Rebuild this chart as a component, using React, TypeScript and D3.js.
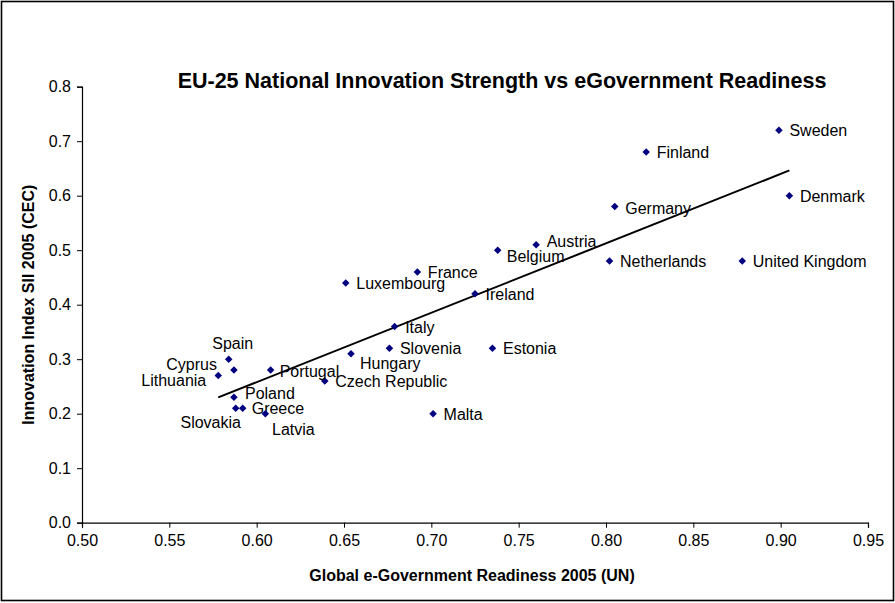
import React, { useEffect, useRef } from "react";
import * as d3 from "d3";

const countries = [
  "Sweden", "Finland", "Denmark", "Germany", "Austria", "Belgium", "Netherlands",
  "United Kingdom", "France", "Luxembourg", "Ireland", "Italy", "Slovenia", "Estonia",
  "Hungary", "Czech Republic", "Malta", "Portugal", "Spain", "Cyprus", "Lithuania",
  "Poland", "Slovakia", "Greece", "Latvia",
];
const egovReadiness = [
  0.899, 0.823, 0.905, 0.805, 0.760, 0.738, 0.802,
  0.878, 0.692, 0.651, 0.725, 0.679, 0.676, 0.735,
  0.654, 0.639, 0.701, 0.608, 0.584, 0.587, 0.578,
  0.587, 0.588, 0.592, 0.605,
];
const innovationIndex = [
  0.72, 0.68, 0.60, 0.58, 0.51, 0.50, 0.48,
  0.48, 0.46, 0.44, 0.42, 0.36, 0.32, 0.32,
  0.31, 0.26, 0.20, 0.28, 0.30, 0.28, 0.27,
  0.23, 0.21, 0.21, 0.20,
];
const xTicks = [0.5, 0.55, 0.6, 0.65, 0.7, 0.75, 0.8, 0.85, 0.9, 0.95];
const yTicks = [0, 0.1, 0.2, 0.3, 0.4, 0.5, 0.6, 0.7, 0.8];

const titleText = "EU-25 National Innovation Strength vs eGovernment Readiness";
const xTitle = "Global e-Government Readiness 2005 (UN)";
const yTitle = "Innovation Index SII 2005 (CEC)";

// label placement (layout only): [dx, dy, anchor]
const labelPlacement: Record<string, [number, number, string]> = {
  Spain: [4, -16, "middle"],
  Cyprus: [-17, -6, "end"],
  Lithuania: [-12, 5, "end"],
  Slovakia: [-25, 14, "middle"],
  Latvia: [28, 16, "middle"],
  Hungary: [9, 10, "start"],
  Belgium: [9, 6.5, "start"],
  Austria: [10.5, -3, "start"],
  Poland: [11, -4, "start"],
  Greece: [9, 0, "start"],
  Portugal: [9, 1, "start"],
  Germany: [10.5, 2, "start"],
};

const FONT = "'Liberation Sans', Arial, sans-serif";

export default function App() {
  const ref = useRef<SVGSVGElement>(null);
  useEffect(() => {
    const svg = d3.select(ref.current);
    svg.selectAll("*").remove();
    const W = 895, H = 603;
    const x = d3.scaleLinear().domain([0.5, 0.95]).range([82, 868]);
    const y = d3.scaleLinear().domain([0, 0.8]).range([522.7, 86.7]);

    svg.append("rect").attr("x", 0).attr("y", 0).attr("width", W).attr("height", H).attr("fill", "white");
    svg.append("rect").attr("x", 1.5).attr("y", 1.5).attr("width", 892).attr("height", 599)
      .attr("fill", "none").attr("stroke", "black").attr("stroke-width", 1.6);

    svg.append("text").attr("x", 502).attr("y", 88).attr("text-anchor", "middle")
      .attr("font-family", FONT).attr("font-weight", "bold").attr("font-size", 21.5).text(titleText);

    const xAxis = d3.axisBottom(x).tickValues(xTicks).tickFormat(d3.format(".2f")).tickSizeOuter(0).tickSize(5).tickPadding(7);
    const gx = svg.append("g").attr("transform", `translate(0,${y(0)})`).call(xAxis);
    const yAxis = d3.axisLeft(y).tickValues(yTicks).tickFormat(d3.format(".1f")).tickSizeOuter(0).tickSize(5).tickPadding(6);
    const gy = svg.append("g").attr("transform", `translate(${x(0.5)},0)`).call(yAxis);
    [gx, gy].forEach((g) => {
      g.select(".domain").attr("stroke", "black").attr("stroke-width", 1.2);
      g.selectAll(".tick line").attr("stroke", "black");
      g.selectAll(".tick text").attr("font-family", FONT).attr("font-size", 16).attr("fill", "black");
    });

    svg.append("text").attr("x", 472).attr("y", 581).attr("text-anchor", "middle")
      .attr("font-family", FONT).attr("font-weight", "bold").attr("font-size", 16).text(xTitle);
    svg.append("text").attr("transform", `translate(34,${(y(0) + y(0.8)) / 2}) rotate(-90)`)
      .attr("text-anchor", "middle").attr("font-family", FONT).attr("font-weight", "bold")
      .attr("font-size", 16).text(yTitle);

    // trendline (least squares)
    const mx = d3.mean(egovReadiness)!;
    const my = d3.mean(innovationIndex)!;
    let sxy = 0, sxx = 0;
    egovReadiness.forEach((v, i) => { sxy += (v - mx) * (innovationIndex[i] - my); sxx += (v - mx) ** 2; });
    const slope = sxy / sxx;
    const icpt = my - slope * mx;
    const [x0, x1] = d3.extent(egovReadiness) as [number, number];
    svg.append("line").attr("x1", x(x0)).attr("y1", y(icpt + slope * x0))
      .attr("x2", x(x1)).attr("y2", y(icpt + slope * x1))
      .attr("stroke", "black").attr("stroke-width", 2);

    const diamond = d3.symbol().type(d3.symbolDiamond2).size(36);
    countries.forEach((c, i) => {
      const px = x(egovReadiness[i]), py = y(innovationIndex[i]);
      svg.append("path").attr("d", diamond()!).attr("transform", `translate(${px},${py})`).attr("fill", "#000080");
      const [dx, dy, anchor] = labelPlacement[c] || [10.5, 0.5, "start"];
      svg.append("text").attr("x", px + dx).attr("y", py + dy).attr("dy", "0.35em")
        .attr("text-anchor", anchor).attr("font-family", FONT).attr("font-size", 16).text(c);
    });
  }, []);
  return <svg ref={ref} width={895} height={603} style={{ position: "absolute", left: 0, top: 0 }} />;
}
